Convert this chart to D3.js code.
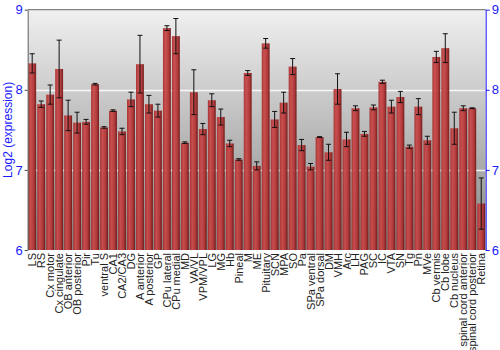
<!DOCTYPE html>
<html>
<head>
<meta charset="utf-8">
<script src="https://cdn.jsdelivr.net/npm/d3@7.9.0/dist/d3.min.js"></script>
<style>
  body { margin: 0; background: #fff; }
  svg { display: block; font-family: "Liberation Sans", Arial, sans-serif; }
</style>
</head>
<body>
<svg id="chart" width="500" height="350"></svg>
<script>
// Brain regions (x categories)
const regions = ["LS", "RS", "Cx motor", "Cx cingulate", "OB anterior", "OB posterior", "Pir", "Tu",
  "ventral S", "CA1", "CA2/CA3", "DG", "A anterior", "A posterior", "GP", "CPu lateral", "CPu medial",
  "MD", "VA/VL", "VPM/VPL", "LG", "MG", "Hb", "Pineal", "M", "ME", "Pituitary", "SCN", "MPA", "SO",
  "Pa", "SPa ventral", "SPa dorsal", "DM", "VMH", "Arc", "LH", "PAG", "SC", "IC", "VTA", "SN", "Tg",
  "Pn", "MVe", "Cb vermis", "Cb lobe", "Cb nucleus", "spinal cord anterior", "spinal cord posterior", "Retina"];

// Mean log2 expression per region
const means = [8.33, 7.82, 7.94, 8.26, 7.68, 7.59, 7.60, 8.07,
  7.53, 7.74, 7.48, 7.88, 8.32, 7.82, 7.74, 8.77, 8.67,
  7.34, 7.97, 7.51, 7.87, 7.66, 7.33, 7.13, 8.21, 7.05, 8.58, 7.63, 7.84, 8.29,
  7.31, 7.04, 7.41, 7.22, 8.01, 7.38, 7.77, 7.45, 7.78, 8.10, 7.79, 7.91, 7.29,
  7.79, 7.37, 8.41, 8.52, 7.52, 7.77, 7.77, 6.58];

// Error (half height of the error bar)
const errors = [0.12, 0.04, 0.12, 0.36, 0.19, 0.13, 0.03, 0.01,
  0.01, 0.01, 0.04, 0.09, 0.36, 0.11, 0.08, 0.03, 0.22,
  0.01, 0.28, 0.07, 0.08, 0.10, 0.04, 0.01, 0.03, 0.05, 0.06, 0.10, 0.13, 0.10,
  0.07, 0.04, 0.005, 0.10, 0.19, 0.09, 0.03, 0.03, 0.03, 0.02, 0.08, 0.07, 0.02,
  0.10, 0.05, 0.07, 0.18, 0.20, 0.03, 0.005, 0.32];

const yTicks = [6, 7, 8, 9];

const data = regions.map((r, i) => ({ region: r, mean: means[i], err: errors[i] }));

const svg = d3.select('#chart');
const plotLeft = 27.7, plotRight = 485.7, plotTop = 9.7, plotBottom = 250;

const x = d3.scaleBand()
  .domain(regions)
  .range([plotLeft, plotRight])
  .paddingInner(0.12)
  .paddingOuter(0.06);

const y = d3.scaleLinear()
  .domain([6, 9])
  .range([plotBottom, plotTop]);

// gradients
const defs = svg.append('defs');
const bg = defs.append('linearGradient')
  .attr('id', 'bg').attr('x1', 0).attr('y1', 0).attr('x2', 0).attr('y2', 1);
bg.append('stop').attr('offset', '0%').attr('stop-color', '#f0f0f0');
bg.append('stop').attr('offset', '100%').attr('stop-color', '#858585');

const barGrad = defs.append('linearGradient')
  .attr('id', 'bar').attr('x1', 0).attr('y1', 0).attr('x2', 1).attr('y2', 0);
barGrad.append('stop').attr('offset', '0%').attr('stop-color', '#a52d2d');
barGrad.append('stop').attr('offset', '30%').attr('stop-color', '#c94a4a');
barGrad.append('stop').attr('offset', '70%').attr('stop-color', '#b23434');
barGrad.append('stop').attr('offset', '100%').attr('stop-color', '#6e1414');

// plot background
svg.append('rect')
  .attr('x', plotLeft).attr('y', plotTop)
  .attr('width', plotRight - plotLeft).attr('height', plotBottom - plotTop)
  .attr('fill', 'url(#bg)');

// gridlines
svg.append('g')
  .selectAll('line')
  .data([7, 8])
  .join('line')
  .attr('x1', plotLeft).attr('x2', plotRight)
  .attr('y1', d => Math.round(y(d)) + 0.5).attr('y2', d => Math.round(y(d)) + 0.5)
  .attr('stroke', '#ffffff')
  .attr('stroke-opacity', 0.85)
  .attr('stroke-width', 1.5);

// top border
svg.append('line')
  .attr('x1', plotLeft).attr('x2', plotRight).attr('y1', plotTop).attr('y2', plotTop)
  .attr('stroke', '#666').attr('stroke-width', 1);

// bars
svg.append('g')
  .selectAll('rect')
  .data(data)
  .join('rect')
  .attr('x', d => x(d.region))
  .attr('y', d => y(d.mean))
  .attr('width', x.bandwidth())
  .attr('height', d => plotBottom - y(d.mean))
  .attr('fill', 'url(#bar)')
  .attr('fill-opacity', 0.95);

// error bars
const eb = svg.append('g')
  .selectAll('g')
  .data(data)
  .join('g')
  .attr('stroke', '#111')
  .attr('stroke-width', 1);

eb.append('line')
  .attr('x1', d => x(d.region) + x.bandwidth() / 2)
  .attr('x2', d => x(d.region) + x.bandwidth() / 2)
  .attr('y1', d => y(d.mean + d.err))
  .attr('y2', d => y(d.mean - d.err));
eb.append('line')
  .attr('x1', d => x(d.region) + x.bandwidth() / 2 - 2.5)
  .attr('x2', d => x(d.region) + x.bandwidth() / 2 + 2.5)
  .attr('y1', d => y(d.mean + d.err))
  .attr('y2', d => y(d.mean + d.err));
eb.append('line')
  .attr('x1', d => x(d.region) + x.bandwidth() / 2 - 2.5)
  .attr('x2', d => x(d.region) + x.bandwidth() / 2 + 2.5)
  .attr('y1', d => y(d.mean - d.err))
  .attr('y2', d => y(d.mean - d.err));

// left axis
const leftAxis = svg.append('g')
  .attr('transform', `translate(${plotLeft},0)`)
  .call(d3.axisLeft(y).tickValues(yTicks).tickSize(3).tickSizeOuter(0).tickPadding(2).tickFormat(d3.format('d')));
leftAxis.select('.domain').attr('stroke', '#666');
leftAxis.selectAll('.tick line').attr('stroke', '#444');
leftAxis.selectAll('text')
  .attr('fill', '#1a1aff')
  .style('font-size', '13px');

// right axis
const rightAxis = svg.append('g')
  .attr('transform', `translate(${plotRight},0)`)
  .call(d3.axisRight(y).tickValues(yTicks).tickSize(4).tickSizeOuter(0).tickPadding(2).tickFormat(d3.format('d')));
rightAxis.select('.domain').attr('stroke', '#1a1aff');
rightAxis.selectAll('.tick line').attr('stroke', '#1a1aff');
rightAxis.selectAll('text')
  .attr('fill', '#1a1aff')
  .style('font-size', '13px');

// y title
svg.append('text')
  .attr('transform', `translate(12,${(plotTop + plotBottom) / 2}) rotate(-90)`)
  .attr('text-anchor', 'middle')
  .attr('fill', '#1a1aff')
  .style('font-size', '12px')
  .text('Log2 (expression)');

// category labels
svg.append('g')
  .selectAll('text')
  .data(regions)
  .join('text')
  .attr('transform', d => `translate(${x(d) + x.bandwidth() / 2 + 4},${plotBottom + 3}) rotate(-90)`)
  .attr('text-anchor', 'end')
  .attr('fill', '#222')
  .style('font-size', '11px')
  .text(d => d);
</script>
</body>
</html>
